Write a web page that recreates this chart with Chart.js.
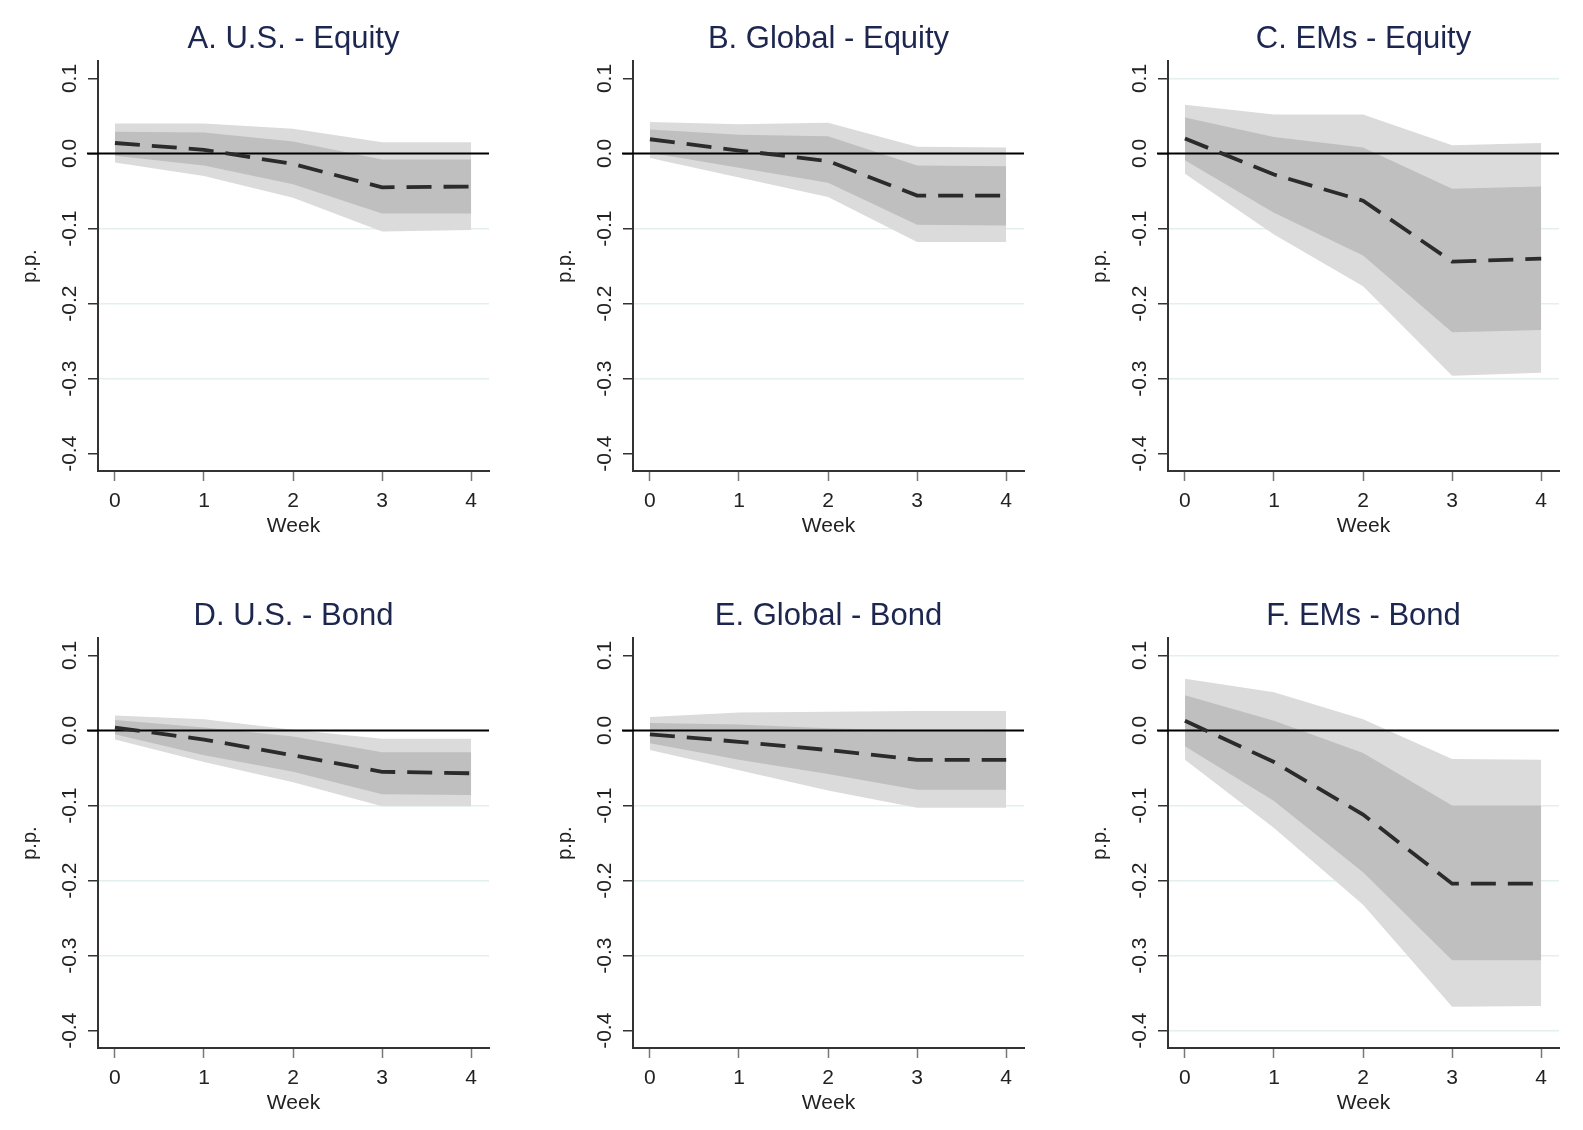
<!DOCTYPE html>
<html>
<head>
<meta charset="utf-8">
<script src="https://cdn.jsdelivr.net/npm/chart.js@4.4.1/dist/chart.umd.min.js"></script>
<style>
  body { margin: 0; background: #fff; overflow: hidden; width: 1583px; height: 1130px; position: relative; }
  canvas { position: absolute; }
</style>
</head>
<body>
<canvas id="pA" width="499" height="553" style="left:0px;top:0px"></canvas>
<canvas id="pB" width="499" height="553" style="left:535px;top:0px"></canvas>
<canvas id="pC" width="499" height="553" style="left:1070px;top:0px"></canvas>
<canvas id="pD" width="499" height="553" style="left:0px;top:577px"></canvas>
<canvas id="pE" width="499" height="553" style="left:535px;top:577px"></canvas>
<canvas id="pF" width="499" height="553" style="left:1070px;top:577px"></canvas>
<script>
const weeks = [0, 1, 2, 3, 4];
const yTicks = [0.1, 0, -0.1, -0.2, -0.3, -0.4];

// A. U.S. - Equity
const usEqMean = [0.014, 0.005, -0.014, -0.045, -0.044];
const usEqLo68 = [-0.003, -0.016, -0.041, -0.080, -0.080];
const usEqHi68 = [0.029, 0.028, 0.016, -0.008, -0.008];
const usEqLo90 = [-0.012, -0.030, -0.059, -0.104, -0.102];
const usEqHi90 = [0.040, 0.040, 0.033, 0.015, 0.015];

// B. Global - Equity
const glEqMean = [0.019, 0.004, -0.010, -0.056, -0.056];
const glEqLo68 = [0.001, -0.019, -0.039, -0.095, -0.096];
const glEqHi68 = [0.032, 0.025, 0.023, -0.016, -0.017];
const glEqLo90 = [-0.006, -0.032, -0.058, -0.118, -0.118];
const glEqHi90 = [0.042, 0.039, 0.041, 0.009, 0.008];

// C. EMs - Equity
const emEqMean = [0.020, -0.028, -0.063, -0.144, -0.140];
const emEqLo68 = [-0.009, -0.079, -0.136, -0.238, -0.235];
const emEqHi68 = [0.048, 0.022, 0.008, -0.047, -0.044];
const emEqLo90 = [-0.027, -0.108, -0.177, -0.296, -0.292];
const emEqHi90 = [0.065, 0.052, 0.052, 0.011, 0.014];

// D. U.S. - Bond
const usBdMean = [0.004, -0.012, -0.033, -0.055, -0.057];
const usBdLo68 = [-0.005, -0.033, -0.055, -0.085, -0.086];
const usBdHi68 = [0.014, 0.004, -0.008, -0.029, -0.029];
const usBdLo90 = [-0.012, -0.042, -0.069, -0.101, -0.101];
const usBdHi90 = [0.020, 0.015, 0.001, -0.011, -0.011];

// E. Global - Bond
const glBdMean = [-0.005, -0.015, -0.026, -0.039, -0.039];
const glBdLo68 = [-0.017, -0.039, -0.058, -0.079, -0.079];
const glBdHi68 = [0.010, 0.008, 0.003, 0.000, 0.001];
const glBdLo90 = [-0.026, -0.053, -0.080, -0.103, -0.103];
const glBdHi90 = [0.018, 0.024, 0.025, 0.026, 0.026];

// F. EMs - Bond
const emBdMean = [0.013, -0.042, -0.112, -0.204, -0.204];
const emBdLo68 = [-0.021, -0.094, -0.189, -0.306, -0.306];
const emBdHi68 = [0.047, 0.013, -0.030, -0.100, -0.100];
const emBdLo90 = [-0.039, -0.130, -0.232, -0.368, -0.367];
const emBdHi90 = [0.069, 0.051, 0.015, -0.038, -0.039];

const FONT = "'Liberation Sans', Arial, sans-serif";
const pts = arr => arr.map((v, i) => ({ x: weeks[i], y: v }));

// black zero line, drawn over the bands but under the dashed response
const zeroLine = {
  id: 'zeroLine',
  beforeDatasetDraw(chart, args) {
    if (args.index !== 4) return;
    const { ctx, chartArea } = chart;
    const y = chart.scales.y.getPixelForValue(0);
    ctx.save();
    ctx.strokeStyle = '#000';
    ctx.lineWidth = 2;
    ctx.beginPath();
    ctx.moveTo(chartArea.left - 11, y);
    ctx.lineTo(chartArea.right, y);
    ctx.stroke();
    ctx.restore();
  }
};

function panel(id, title, mean, lo68, hi68, lo90, hi90, gridAt) {
  const band = { pointRadius: 0, borderWidth: 0, tension: 0 };
  new Chart(document.getElementById(id), {
    type: 'line',
    data: {
      datasets: [
        { ...band, data: pts(lo90), fill: false, order: 5 },
        { ...band, data: pts(hi90), fill: '-1', backgroundColor: 'rgb(219,219,219)', order: 5 },
        { ...band, data: pts(lo68), fill: false, order: 3 },
        { ...band, data: pts(hi68), fill: '-1', backgroundColor: 'rgb(191,191,191)', order: 3 },
        { data: pts(mean), fill: false, pointRadius: 0, borderColor: '#2b2b2b', borderWidth: 3.8,
          borderDash: [25, 12], tension: 0, order: 1 }
      ]
    },
    options: {
      responsive: false,
      animation: false,
      devicePixelRatio: 1,
      layout: { padding: { left: 0, right: 10, top: 0, bottom: 14 } },
      plugins: {
        legend: { display: false },
        tooltip: { enabled: false },
        title: {
          display: true, text: title, fullSize: false,
          color: 'rgb(28,38,78)',
          font: { family: FONT, size: 31, weight: 'normal' },
          padding: { top: 21, bottom: 3 }
        }
      },
      scales: {
        x: {
          type: 'linear', min: -0.19, max: 4.2,
          afterBuildTicks: s => { s.ticks = weeks.map(v => ({ value: v })); },
          afterFit: s => { s.height = 68; },
          ticks: { color: '#222', font: { family: FONT, size: 21 }, padding: 8, maxRotation: 0 },
          grid: { drawOnChartArea: false, tickLength: 10, tickColor: '#777', tickWidth: 1.5 },
          border: { color: '#333', width: 2 },
          title: { display: true, text: 'Week', color: '#222', font: { family: FONT, size: 21 }, padding: 0 }
        },
        y: {
          min: -0.423, max: 0.123,
          afterBuildTicks: s => { s.ticks = yTicks.map(v => ({ value: v })); },
          afterFit: s => { s.width = 98; },
          ticks: {
            color: '#222', font: { family: FONT, size: 21 },
            minRotation: 90, maxRotation: 90, crossAlign: 'center', padding: 0,
            callback: v => v.toFixed(1)
          },
          grid: {
            tickLength: 10, tickColor: '#333', tickWidth: 1.5, lineWidth: 1.5,
            color: c => gridAt.some(g => Math.abs(g - c.tick.value) < 1e-9) ? 'rgb(228,240,240)' : 'rgba(0,0,0,0)'
          },
          border: { color: '#333', width: 2 },
          title: { display: true, text: 'p.p.', color: '#222', font: { family: FONT, size: 20 }, padding: { top: 18, bottom: 0 } }
        }
      }
    },
    plugins: [zeroLine]
  });
}

panel('pA', 'A. U.S. - Equity', usEqMean, usEqLo68, usEqHi68, usEqLo90, usEqHi90, [-0.1, -0.2, -0.3]);
panel('pB', 'B. Global - Equity', glEqMean, glEqLo68, glEqHi68, glEqLo90, glEqHi90, [-0.1, -0.2, -0.3]);
panel('pC', 'C. EMs - Equity', emEqMean, emEqLo68, emEqHi68, emEqLo90, emEqHi90, [0.1, -0.1, -0.2, -0.3]);
panel('pD', 'D. U.S. - Bond', usBdMean, usBdLo68, usBdHi68, usBdLo90, usBdHi90, [-0.1, -0.2, -0.3]);
panel('pE', 'E. Global - Bond', glBdMean, glBdLo68, glBdHi68, glBdLo90, glBdHi90, [-0.1, -0.2, -0.3]);
panel('pF', 'F. EMs - Bond', emBdMean, emBdLo68, emBdHi68, emBdLo90, emBdHi90, [0.1, -0.1, -0.2, -0.3, -0.4]);
</script>
</body>
</html>
